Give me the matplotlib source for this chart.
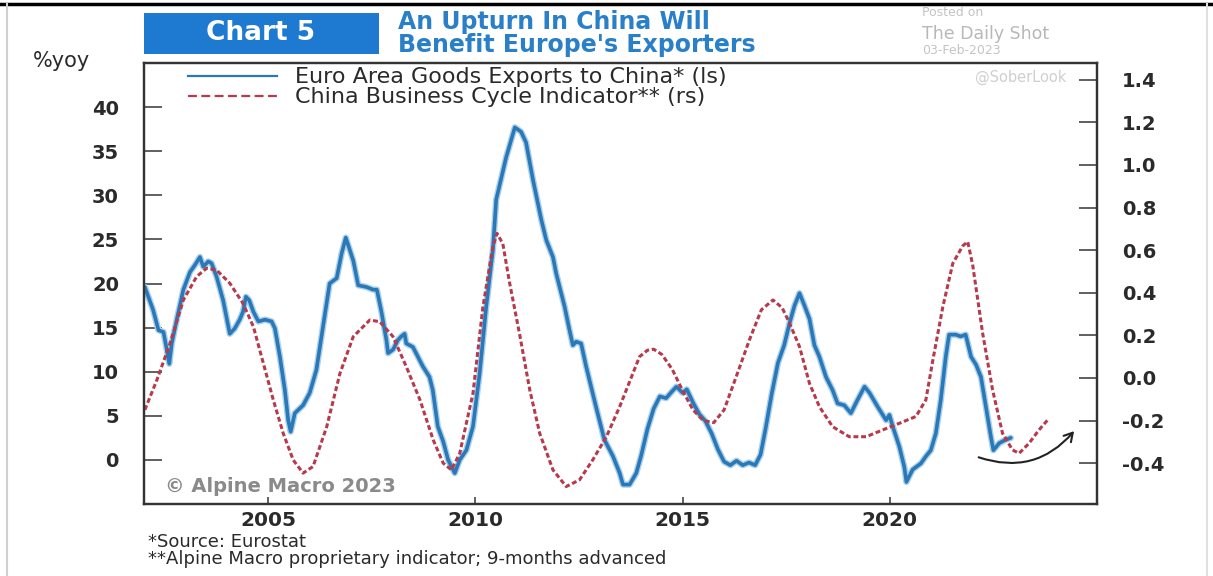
import matplotlib
matplotlib.use("Agg")
import matplotlib.pyplot as plt
import matplotlib.patheffects as pe
from matplotlib.lines import Line2D
from matplotlib.patches import Rectangle

plt.rcParams['font.family'] = ['DejaVu Sans']
plt.rcParams['axes.unicode_minus'] = False

# Euro Area goods exports to China, %yoy (left scale)
exports_t = [2002.02, 2002.22, 2002.35, 2002.47, 2002.55, 2002.61, 2002.67, 2002.79, 2002.95,
             2003.11, 2003.23, 2003.35, 2003.43, 2003.55, 2003.63, 2003.75, 2003.91,
             2004.07, 2004.19, 2004.31, 2004.39, 2004.46, 2004.54, 2004.64, 2004.76, 2004.92,
             2005.08, 2005.16, 2005.28, 2005.40, 2005.48, 2005.54, 2005.64, 2005.84,
             2006.00, 2006.16, 2006.32, 2006.48, 2006.65, 2006.77, 2006.87,
             2007.05, 2007.17, 2007.37, 2007.53, 2007.62, 2007.73, 2007.85, 2007.89,
             2008.01, 2008.13, 2008.21, 2008.29, 2008.33, 2008.49, 2008.61, 2008.73, 2008.89, 2008.97,
             2009.09, 2009.22, 2009.34, 2009.50, 2009.62, 2009.78, 2009.94,
             2010.10, 2010.26, 2010.42, 2010.50, 2010.74, 2010.95,
             2011.10, 2011.22, 2011.39, 2011.59, 2011.71, 2011.87, 2011.95,
             2012.15, 2012.27, 2012.35, 2012.43, 2012.55, 2012.67, 2012.91,
             2013.11, 2013.32, 2013.48, 2013.56, 2013.72, 2013.88,
             2014.00, 2014.15, 2014.30, 2014.45, 2014.60, 2014.75, 2014.85,
             2015.00, 2015.10, 2015.25, 2015.40, 2015.55, 2015.70, 2015.85,
             2016.00, 2016.15, 2016.30, 2016.45, 2016.60, 2016.75, 2016.88,
             2017.00, 2017.15, 2017.30, 2017.45, 2017.58, 2017.70, 2017.82, 2017.94,
             2018.06, 2018.18, 2018.30, 2018.46, 2018.62, 2018.74, 2018.90,
             2019.06, 2019.22, 2019.39, 2019.51, 2019.71, 2019.91, 2019.99,
             2020.07, 2020.23, 2020.35, 2020.40, 2020.55, 2020.75, 2020.87, 2020.99,
             2021.11, 2021.23, 2021.35, 2021.43, 2021.59, 2021.71, 2021.83, 2021.96,
             2022.08, 2022.20, 2022.32, 2022.44, 2022.50, 2022.64, 2022.80, 2022.92]
exports_v = [19.6, 17.0, 14.7, 14.5, 12.5, 10.9, 13.2, 15.9, 19.3,
             21.3, 22.1, 23.0, 21.9, 22.5, 22.3, 20.8, 18.1,
             14.3, 14.9, 15.9, 16.8, 18.5, 18.1, 16.8, 15.7, 15.9,
             15.7, 14.9, 11.7, 7.9, 4.5, 3.2, 5.3, 6.2,
             7.6, 10.2, 15.1, 20.0, 20.6, 23.4, 25.2,
             22.6, 19.8, 19.6, 19.3, 19.3, 16.8, 13.6, 12.1,
             12.5, 13.6, 14.0, 14.3, 13.2, 12.8, 11.7, 10.6, 9.4, 7.9,
             3.8, 2.1, 0.0, -1.5, 0.0, 1.1, 3.8,
             9.8, 17.4, 23.8, 29.5, 34.3, 37.7,
             37.2, 36.0, 31.7, 27.2, 24.9, 23.0, 21.1,
             17.4, 14.7, 13.0, 13.4, 13.2, 10.6, 6.0,
             2.3, 0.4, -1.5, -2.8, -2.8, -1.5,
             0.5, 3.5, 5.8, 7.2, 7.0, 7.8, 8.3,
             7.6, 8.0, 6.5, 5.2, 4.4, 3.0, 1.2,
             -0.2, -0.6, -0.1, -0.6, -0.3, -0.6, 0.6,
             3.5, 7.5, 11.0, 13.0, 15.5, 17.5, 18.9, 17.5,
             16.0, 13.0, 11.7, 9.4, 7.9, 6.4, 6.2,
             5.3, 6.8, 8.3, 7.6, 6.0, 4.5, 5.1,
             3.8, 1.5, -0.8, -2.5, -1.1, -0.4, 0.4, 1.1,
             3.0, 6.8, 11.7, 14.2, 14.2, 14.0, 14.2, 11.7,
             10.8, 9.4, 6.0, 2.6, 1.1, 1.9, 2.3, 2.5]

# China business cycle indicator, 9 months advanced (right scale)
cycle_t = [2002.02, 2002.31, 2002.63, 2002.95, 2003.27, 2003.51, 2003.75, 2004.07, 2004.39, 2004.64,
           2004.88, 2005.12, 2005.36, 2005.60, 2005.84, 2006.08, 2006.41, 2006.73, 2007.05, 2007.45,
           2007.69, 2008.01, 2008.33, 2008.66, 2008.98, 2009.22, 2009.42, 2009.62, 2009.94, 2010.18,
           2010.42, 2010.52, 2010.66, 2010.82, 2011.07, 2011.31, 2011.55, 2011.87, 2012.19, 2012.51,
           2012.83, 2013.16, 2013.48, 2013.80, 2013.96, 2014.15, 2014.30, 2014.50, 2014.75, 2015.00,
           2015.25, 2015.50, 2015.75, 2016.00, 2016.30, 2016.61, 2016.90, 2017.18, 2017.40, 2017.58,
           2017.82, 2018.06, 2018.30, 2018.62, 2019.02, 2019.43, 2019.83, 2020.23, 2020.63, 2020.87,
           2021.04, 2021.28, 2021.52, 2021.76, 2021.88, 2022.00, 2022.24, 2022.48, 2022.72, 2022.96,
           2023.12, 2023.36, 2023.60, 2023.81]
cycle_v = [-0.15, -0.01, 0.163, 0.366, 0.476, 0.515, 0.507, 0.445, 0.35, 0.241,
           0.069, -0.103, -0.26, -0.385, -0.447, -0.416, -0.229, 0.022, 0.194, 0.272,
           0.264, 0.194, 0.053, -0.103, -0.291, -0.40, -0.432, -0.354, -0.072, 0.335,
           0.616, 0.679, 0.63, 0.45, 0.20, -0.056, -0.26, -0.432, -0.51, -0.479,
           -0.385, -0.276, -0.135, 0.022, 0.10, 0.13, 0.135, 0.11, 0.04, -0.06,
           -0.15, -0.2, -0.21, -0.15, 0.01, 0.178, 0.32, 0.366, 0.33, 0.257,
           0.147, -0.025, -0.135, -0.229, -0.276, -0.276, -0.244, -0.213, -0.181, -0.103,
           0.085, 0.335, 0.538, 0.62, 0.64, 0.53, 0.21, -0.056, -0.26, -0.338,
           -0.354, -0.307, -0.244, -0.197]

left_ticks = [0, 5, 10, 15, 20, 25, 30, 35, 40]
right_ticks = [-0.4, -0.2, 0.0, 0.2, 0.4, 0.6, 0.8, 1.0, 1.2, 1.4]
year_ticks = [2005, 2010, 2015, 2020]

BLUE = '#2a78b6'
RED = '#b63a4c'
TXT = '#2a2a2a'

fig = plt.figure(figsize=(12.13, 5.76), dpi=100)
ax = fig.add_axes([144 / 1213, 72 / 576, 953 / 1213, 441 / 576])
ax2 = ax.twinx()

ax.plot(exports_t, exports_v, color=BLUE, lw=2.6, solid_capstyle='round',
        path_effects=[pe.Stroke(linewidth=4.6, foreground='#a9d0ee'), pe.Normal()])
ax2.plot(cycle_t, cycle_v, color=RED, lw=2.2, dashes=(1.6, 0.9))

ax.set_xlim(2002, 2025)
ax.set_ylim(-5, 45)
ax2.set_ylim(-0.592, 1.479)

ax.set_xticks(year_ticks)
ax.set_yticks(left_ticks)
ax2.set_yticks(right_ticks)
ax2.set_yticklabels(['%.1f' % v for v in right_ticks])

ax.tick_params(axis='y', direction='in', length=13, width=1.2, color='#444', pad=18,
               labelsize=14, labelcolor=TXT)
ax2.tick_params(axis='y', direction='in', length=13, width=1.2, color='#444', pad=18,
                labelsize=14, labelcolor=TXT)
ax.tick_params(axis='x', direction='in', length=5, width=1.2, color='#444', pad=5,
               labelsize=14.5, labelcolor=TXT)
for lab in ax.get_yticklabels() + ax2.get_yticklabels() + ax.get_xticklabels():
    lab.set_fontweight('bold')

for a in (ax, ax2):
    for s in a.spines.values():
        s.set_linewidth(1.6)
        s.set_color('#333')

# legend
h1 = Line2D([], [], color=BLUE, lw=1.6)
h2 = Line2D([], [], color=RED, lw=1.6, dashes=(4, 2))
leg = ax2.legend([h1, h2],
                 ['Euro Area Goods Exports to China* (ls)',
                  'China Business Cycle Indicator** (rs)'],
                 loc='upper left', bbox_to_anchor=(0.046, 0.99), frameon=False,
                 fontsize=16, handlelength=4.0, handletextpad=0.8, labelspacing=0.0,
                 borderpad=0, borderaxespad=0)
for t in leg.get_texts():
    t.set_color(TXT)

ax.text(0.022, 0.04, '\u00a9 Alpine Macro 2023', transform=ax.transAxes,
        fontsize=14, fontweight='bold', color='#8a8a8a', va='center', ha='left')

# arrow hinting at the upturn
ax.annotate('', xy=(2024.49, 3.5), xytext=(2022.08, 0.4),
            arrowprops=dict(arrowstyle='->,head_length=0.6,head_width=0.35',
                            connectionstyle='arc3,rad=0.35', color='#222', lw=1.5))

# header
fig.add_artist(Rectangle((144 / 1213, 1 - 54 / 576), (379 - 144) / 1213, 41 / 576,
                         transform=fig.transFigure, color='#1e7ad0', lw=0))
fig.text(261 / 1213, 1 - 33 / 576, 'Chart 5', color='white', fontsize=19,
         fontweight='bold', ha='center', va='center')
fig.text(398 / 1213, 1 - 22 / 576, 'An Upturn In China Will', color='#2a80c8',
         fontsize=17, fontweight='bold', ha='left', va='center')
fig.text(398 / 1213, 1 - 45 / 576, "Benefit Europe's Exporters", color='#2a80c8',
         fontsize=17, fontweight='bold', ha='left', va='center')
fig.text(922 / 1213, 1 - 12 / 576, 'Posted on', color='#c4c4c4', fontsize=9,
         ha='left', va='center')
fig.text(922 / 1213, 1 - 34 / 576, 'The Daily Shot', color='#b8b8b8', fontsize=12.5,
         ha='left', va='center')
fig.text(922 / 1213, 1 - 51 / 576, '03-Feb-2023', color='#c4c4c4', fontsize=9,
         ha='left', va='center')
fig.text(975 / 1213, 1 - 77 / 576, '@SoberLook', color='#cfcfcf', fontsize=10.5,
         ha='left', va='center', zorder=0)

fig.text(33 / 1213, 1 - 61 / 576, '%yoy', color=TXT, fontsize=15, ha='left', va='center')

fig.text(148 / 1213, 1 - 542 / 576, '*Source: Eurostat', color=TXT, fontsize=13,
         ha='left', va='center')
fig.text(148 / 1213, 1 - 559 / 576,
         '**Alpine Macro proprietary indicator; 9-months advanced', color=TXT,
         fontsize=13, ha='left', va='center')

# frame lines of the clipped screenshot
fig.add_artist(Line2D([0, 1], [1 - 4 / 576, 1 - 4 / 576], transform=fig.transFigure,
                      color='black', lw=2.5))
fig.add_artist(Line2D([7 / 1213, 7 / 1213], [0, 1 - 4 / 576], transform=fig.transFigure,
                      color='#d0d0d0', lw=1.5))
fig.add_artist(Line2D([1207 / 1213, 1207 / 1213], [0, 1 - 4 / 576], transform=fig.transFigure,
                      color='#e0e0e0', lw=1.5))

fig.savefig('out.png', dpi=100)
